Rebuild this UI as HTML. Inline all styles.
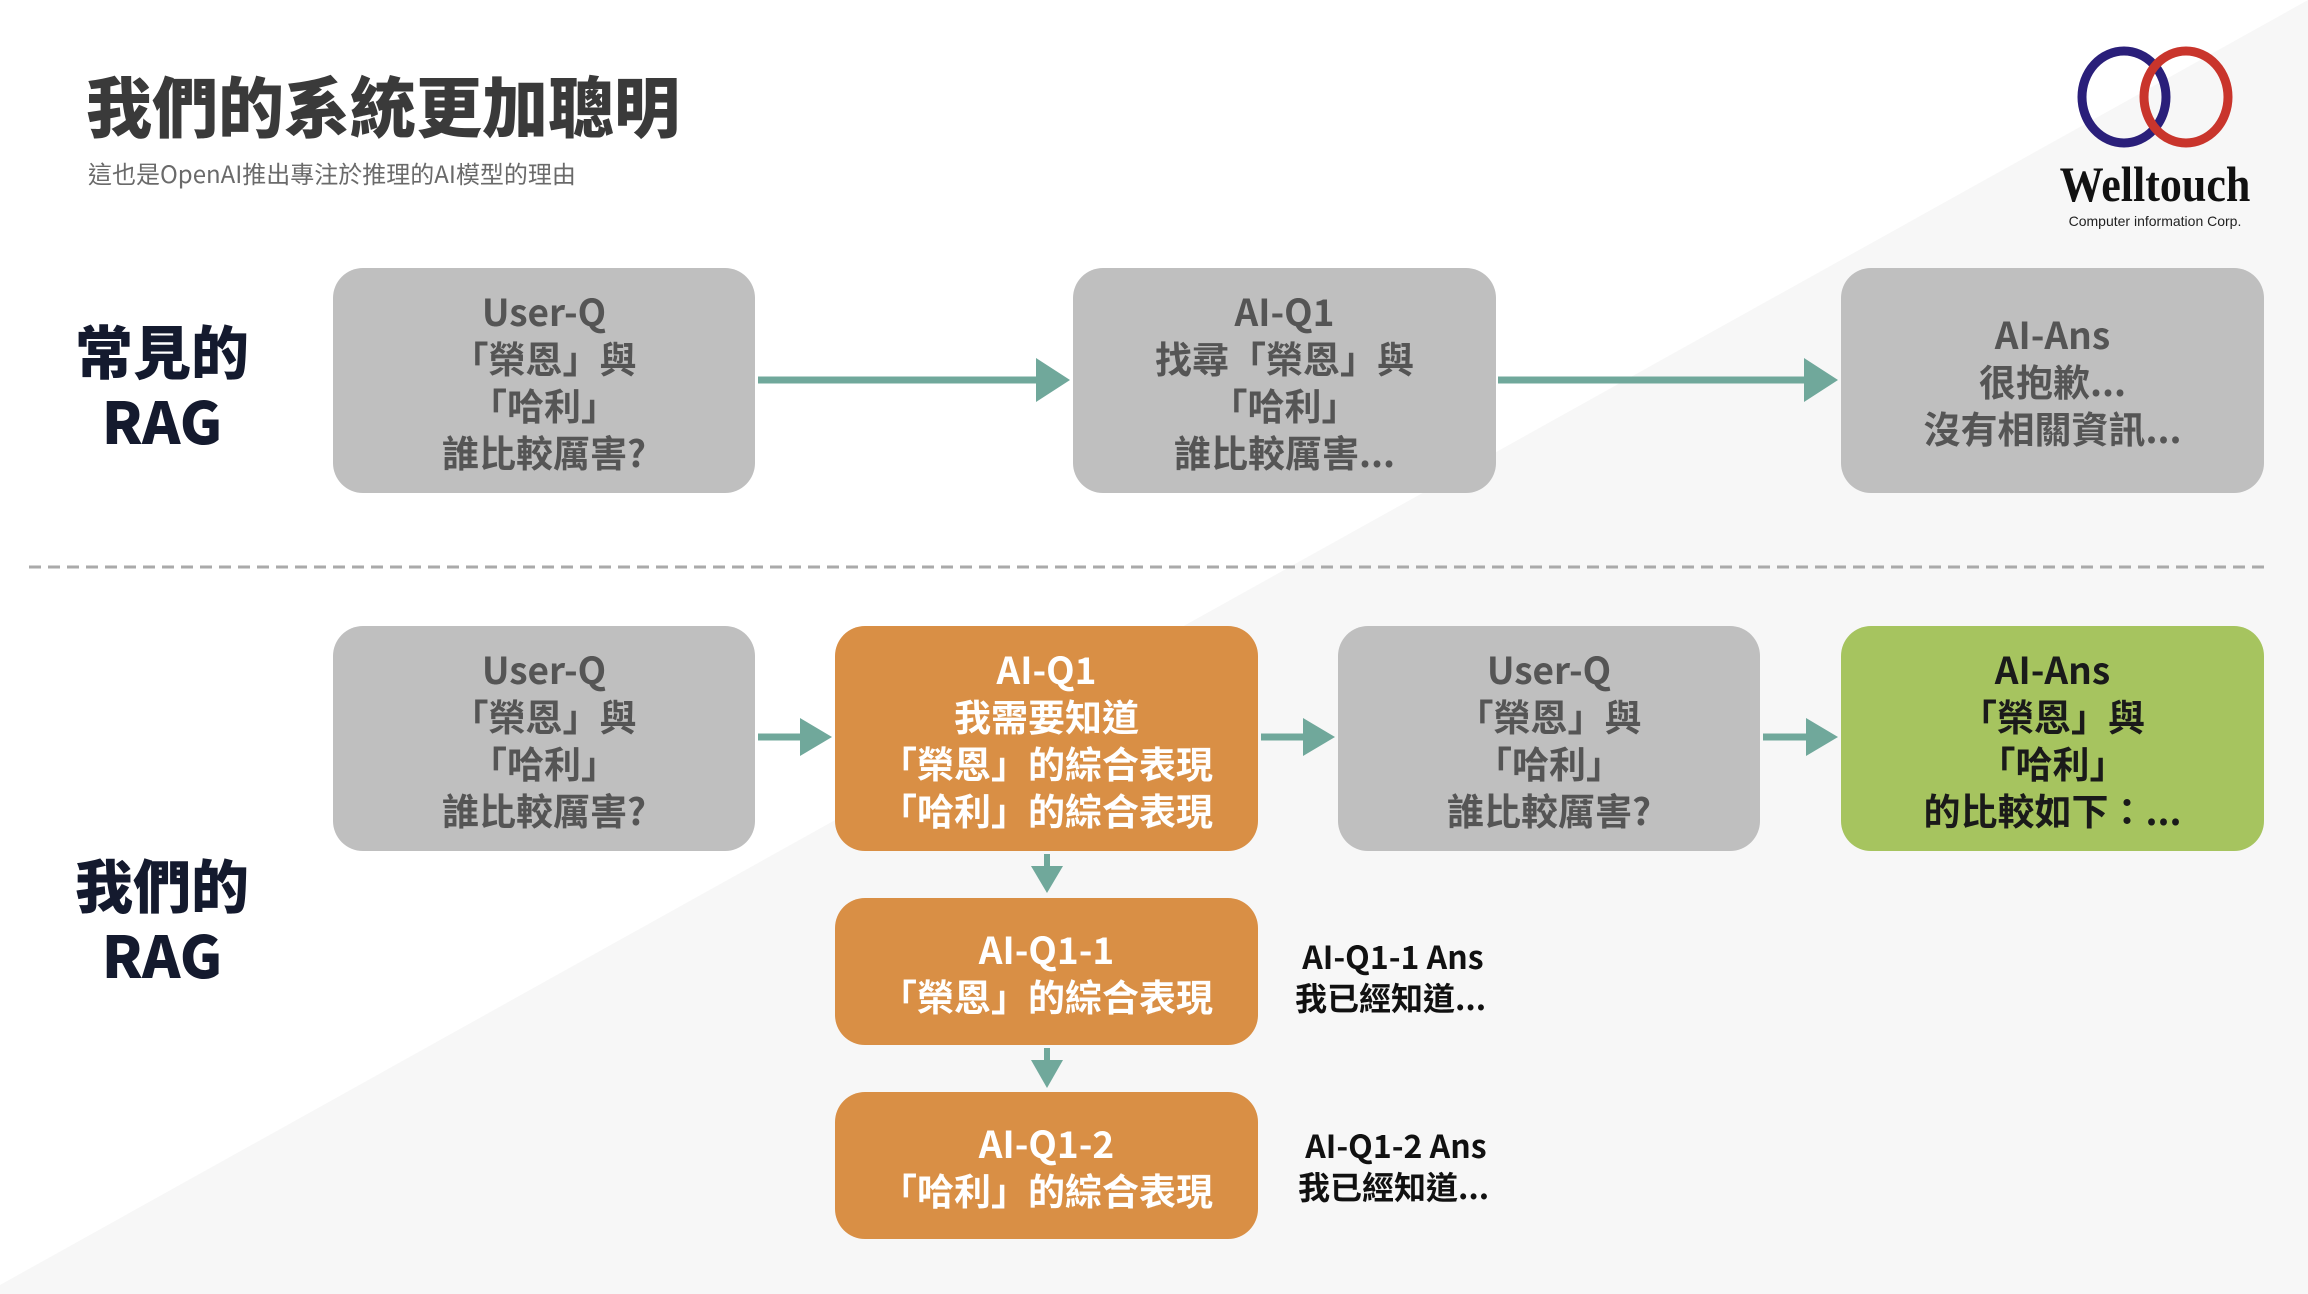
<!DOCTYPE html>
<html><head><meta charset="utf-8"><style>
body{margin:0;width:2308px;height:1294px;position:relative;overflow:hidden;background:#fff;font-family:"Liberation Sans","Noto Sans CJK TC",sans-serif}
.a{position:absolute}
.box{position:absolute;border-radius:30px;display:flex;flex-direction:column;align-items:center;justify-content:center;font-family:"Noto Sans CJK TC",sans-serif;font-weight:700;font-size:37px;line-height:47px;text-align:center}
.g{background:#bfbfbf;color:#555}
.o{background:#d98f45;color:#fff}
.gr{background:#a6c45f;color:#1a1a1a}
.lab{position:absolute;width:200px;text-align:center;font-family:"Noto Sans CJK TC",sans-serif;font-weight:900;font-size:58px;line-height:70px;color:#141a2e}
.side{position:absolute;font-family:"Noto Sans CJK TC",sans-serif;font-weight:700;font-size:32px;line-height:41px;color:#111}
</style></head><body>
<svg class="a" style="left:0;top:0" width="2308" height="1294">
<polygon points="2308,0 0,1285 0,1294 2308,1294" fill="#f7f7f7"/>
<line x1="29" y1="567" x2="2267" y2="567" stroke="#aaa" stroke-width="3" stroke-dasharray="12 7"/>
<g fill="#70a89b" stroke="#70a89b">
<line x1="758" y1="380" x2="1040" y2="380" stroke-width="7"/><polygon points="1070,380 1036,358 1036,402" stroke="none"/>
<line x1="1498" y1="380" x2="1808" y2="380" stroke-width="7"/><polygon points="1838,380 1804,358 1804,402" stroke="none"/>
<line x1="758" y1="737" x2="805" y2="737" stroke-width="7"/><polygon points="832,737 800,718 800,756" stroke="none"/>
<line x1="1261" y1="737" x2="1308" y2="737" stroke-width="7"/><polygon points="1335,737 1303,718 1303,756" stroke="none"/>
<line x1="1763" y1="737" x2="1811" y2="737" stroke-width="7"/><polygon points="1838,737 1806,718 1806,756" stroke="none"/>
<line x1="1047" y1="854" x2="1047" y2="870" stroke-width="6"/><polygon points="1047,893 1031,866 1063,866" stroke="none"/>
<line x1="1047" y1="1048" x2="1047" y2="1064" stroke-width="6"/><polygon points="1047,1088 1031,1060 1063,1060" stroke="none"/>
</g>
<ellipse cx="2124" cy="97" rx="42" ry="46" fill="none" stroke="#2a1f7a" stroke-width="9"/>
<ellipse cx="2186" cy="97" rx="42" ry="46" fill="none" stroke="#c9352c" stroke-width="9"/>
</svg>
<div class="a" style="left:86px;top:64px;font-family:'Noto Sans CJK TC',sans-serif;font-weight:900;font-size:66px;line-height:80px;color:#3a3a3a">我們的系統更加聰明</div>
<div class="a" style="left:88px;top:157px;font-family:'Noto Sans CJK TC',sans-serif;font-size:24px;line-height:32px;color:#6a6a6a">這也是OpenAI推出專注於推理的AI模型的理由</div>
<div class="a" style="left:2040px;top:154px;width:230px;text-align:center;font-family:'Liberation Serif',serif;font-weight:700;font-size:50px;line-height:60px;color:#111;transform:scaleX(0.88)">Welltouch</div>
<div class="a" style="left:2040px;top:212px;width:230px;text-align:center;font-size:14px;line-height:18px;color:#222">Computer information Corp.</div>

<div class="lab" style="left:62px;top:314px">常見的<br>RAG</div>
<div class="lab" style="left:62px;top:848px">我們的<br>RAG</div>

<div class="box g" style="left:333px;top:268px;width:422px;height:225px">User-Q<br>「榮恩」與<br>「哈利」<br>誰比較厲害?</div>
<div class="box g" style="left:1073px;top:268px;width:423px;height:225px">AI-Q1<br>找尋「榮恩」與<br>「哈利」<br>誰比較厲害...</div>
<div class="box g" style="left:1841px;top:268px;width:423px;height:225px">AI-Ans<br>很抱歉...<br>沒有相關資訊...</div>

<div class="box g" style="left:333px;top:626px;width:422px;height:225px">User-Q<br>「榮恩」與<br>「哈利」<br>誰比較厲害?</div>
<div class="box o" style="left:835px;top:626px;width:423px;height:225px">AI-Q1<br>我需要知道<br>「榮恩」的綜合表現<br>「哈利」的綜合表現</div>
<div class="box g" style="left:1338px;top:626px;width:422px;height:225px">User-Q<br>「榮恩」與<br>「哈利」<br>誰比較厲害?</div>
<div class="box gr" style="left:1841px;top:626px;width:423px;height:225px">AI-Ans<br>「榮恩」與<br>「哈利」<br>的比較如下：...</div>

<div class="box o" style="left:835px;top:898px;width:423px;height:147px">AI-Q1-1<br>「榮恩」的綜合表現</div>
<div class="box o" style="left:835px;top:1092px;width:423px;height:147px">AI-Q1-2<br>「哈利」的綜合表現</div>

<div class="side" style="left:1295px;top:936px">&nbsp;AI-Q1-1 Ans<br>我已經知道...</div>
<div class="side" style="left:1298px;top:1125px">&nbsp;AI-Q1-2 Ans<br>我已經知道...</div>
</body></html>
